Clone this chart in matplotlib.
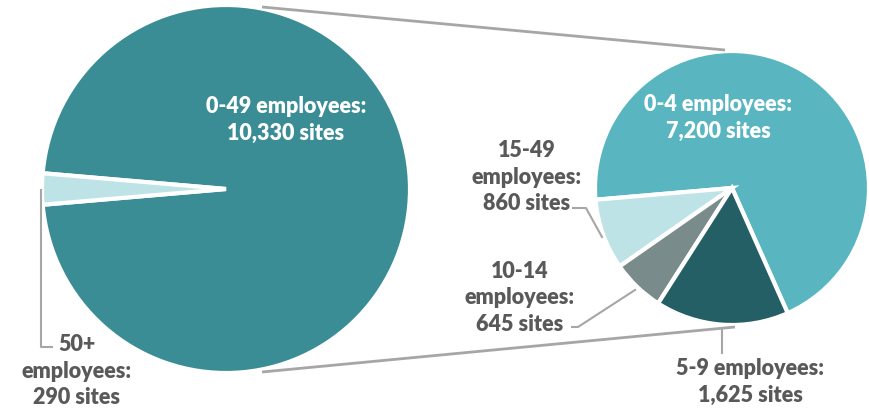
import matplotlib.pyplot as plt

plt.rcParams['font.family'] = ['Lato', 'DejaVu Sans']

# main pie
main_labels = ["0-49 employees:\n10,330 sites", "50+\nemployees:\n290 sites"]
main_values = [10330, 290]
main_colors = ["#3B8D95", "#BDE3E6"]

# breakdown of the 0-49 group
sub_labels = ["0-4 employees:\n7,200 sites", "15-49\nemployees:\n860 sites",
              "10-14\nemployees:\n645 sites", "5-9 employees:\n1,625 sites"]
sub_values = [7200, 860, 645, 1625]
sub_colors = ["#59B6C0", "#BDE3E6", "#798B8B", "#255F66"]

W, H = 870, 412
fig = plt.figure(figsize=(W / 100, H / 100), dpi=100)
ax = fig.add_axes([0, 0, 1, 1])


def py(y):
    # pixel row -> data y
    return H - y


small_frac = main_values[1] / sum(main_values)
ax.pie(main_values, colors=main_colors, center=(226, py(189)), radius=184,
       startangle=180 + small_frac * 180, counterclock=True,
       wedgeprops=dict(edgecolor='white', linewidth=3), frame=True)

ax.pie(sub_values, colors=sub_colors, center=(732, py(188)), radius=137,
       startangle=-66, counterclock=True,
       wedgeprops=dict(edgecolor='white', linewidth=3), frame=True)

ax.set_xlim(0, W)
ax.set_ylim(0, H)
ax.set_aspect('equal')
ax.axis('off')

gray = "#A6A6A6"
txt = "#595959"
lw = 1.5

# connector lines between pies
ax.plot([262, 725], [py(7), py(50)], color=gray, lw=2, solid_capstyle='butt')
ax.plot([262, 735], [py(372), py(327)], color=gray, lw=2, solid_capstyle='butt')

# leader lines
ax.plot([41, 41, 52], [py(190), py(347), py(347)], color=gray, lw=lw)
ax.plot([573, 586, 602], [py(208), py(208), py(237)], color=gray, lw=lw)
ax.plot([572, 578, 635], [py(327), py(327), py(290)], color=gray, lw=lw)
ax.plot([722, 722], [py(329), py(353)], color=gray, lw=lw)

fs = 15.5
ls = 1.33
kw = dict(fontsize=fs, fontweight='heavy', ha='center', va='center',
          linespacing=ls)
ax.text(286, py(120), main_labels[0], color='white', **kw)
ax.text(77, py(371), main_labels[1], color=txt, **kw)
ax.text(718, py(118), sub_labels[0], color='white', **kw)
ax.text(527, py(177), sub_labels[1], color=txt, **kw)
ax.text(520, py(298), sub_labels[2], color=txt, **kw)
ax.text(750, py(382), sub_labels[3], color=txt, **kw)

fig.savefig("out.png", dpi=100)
